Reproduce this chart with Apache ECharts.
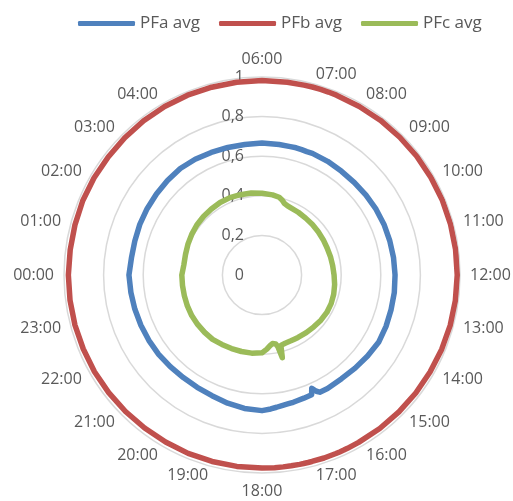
<!DOCTYPE html>
<html>
<head>
<meta charset="utf-8">
<script src="https://cdn.jsdelivr.net/npm/echarts@6/dist/echarts.min.js"></script>
<style>
html,body{margin:0;padding:0;background:#fff;}
#c{width:513px;height:501px;}
</style>
</head>
<body>
<div id="c"></div>
<script>
// Clock hours of the samples
const times = [0,0.5,1,1.5,2,2.5,3,3.5,4,4.5,5,5.5,6,
  6.5,6.83,7,7.17,7.33,7.5,8,8.5,9,9.5,10,10.5,11,11.5,12,12.5,13,13.5,14,14.5,15,15.5,16,
  16.25,16.33,16.42,16.5,16.75,17,17.08,17.17,17.25,17.42,17.58,17.75,
  18,18.5,19,19.5,20,20.5,21,21.5,22,22.5,23,23.5];

const pfaAvg = [0.672,0.665,0.665,0.668,0.67,0.672,0.675,0.678,0.675,0.67,0.667,0.665,0.667,
  0.665,0.664,0.665,0.664,0.663,0.665,0.663,0.66,0.66,0.662,0.665,0.667,0.668,0.67,0.672,0.674,0.675,0.678,0.68,0.672,0.665,0.66,0.662,
  0.66,0.648,0.625,0.655,0.657,0.66,0.662,0.663,0.664,0.667,0.672,0.678,
  0.685,0.68,0.67,0.66,0.655,0.653,0.655,0.658,0.66,0.662,0.665,0.668];

const pfbAvg = [0.978,0.977,0.978,0.98,0.98,0.979,0.98,0.982,0.983,0.983,0.982,0.982,0.982,
  0.982,0.982,0.983,0.983,0.983,0.983,0.983,0.984,0.984,0.985,0.985,0.986,0.986,0.986,0.986,0.985,0.984,0.982,0.98,0.979,0.978,0.977,0.976,
  0.976,0.976,0.976,0.976,0.976,0.975,0.975,0.975,0.975,0.975,0.975,0.975,
  0.975,0.975,0.975,0.975,0.974,0.974,0.975,0.976,0.977,0.977,0.978,0.978];

const pfcAvg = [0.405,0.398,0.40,0.405,0.41,0.415,0.418,0.42,0.423,0.423,0.42,0.418,0.413,
  0.408,0.402,0.392,0.378,0.373,0.37,0.366,0.362,0.36,0.358,0.357,0.356,0.358,0.36,0.364,0.37,0.375,0.378,0.378,0.375,0.37,0.367,0.364,
  0.363,0.363,0.363,0.363,0.364,0.368,0.43,0.37,0.355,0.35,0.36,0.375,
  0.393,0.398,0.40,0.402,0.405,0.41,0.41,0.41,0.41,0.408,0.406,0.405];

// Category labels shown around the chart (05:00 is not shown in the original)
const hourLabels = ['00:00','01:00','02:00','03:00','04:00','','06:00','07:00','08:00','09:00','10:00','11:00',
  '12:00','13:00','14:00','15:00','16:00','17:00','18:00','19:00','20:00','21:00','22:00','23:00'];
const radiusTicks = [0, 0.2, 0.4, 0.6, 0.8, 1];

const seriesNames = ['PFa avg','PFb avg','PFc avg'];
const seriesColors = ['#4F81BD','#C0504D','#9BBB59'];

function toPolar(vals){
  const pts = times.map((t,i)=>[vals[i], (t - 6 + 24) % 24]);
  pts.push([vals[0], (times[0] - 6 + 24) % 24]);
  return pts;
}

// indicator order: start at 06:00 on top, radar goes counter-clockwise
const indicatorOrder = [];
for (let k = 0; k < 24; k++) indicatorOrder.push((6 - k + 24) % 24);

const FONT = '"Open Sans", sans-serif';
const CX = 262, CY = 275, R = 198;
const chart = echarts.init(document.getElementById('c'), null, {renderer:'canvas'});
chart.setOption({
  animation:false,
  backgroundColor:'#fff',
  legend:{
    data: seriesNames,
    left: 78, top: 15, padding:0,
    icon:'roundRect',
    itemWidth:57, itemHeight:5,
    itemGap:19,
    textStyle:{color:'#595959', fontSize:17, fontFamily:FONT}
  },
  radar:{
    center:[CX,CY], radius:R, startAngle:90, shape:'circle', splitNumber:5,
    indicator: indicatorOrder.map(h=>({name:hourLabels[h], min:0, max:1})),
    axisName:{color:'#595959', fontSize:16, fontFamily:FONT},
    nameGap:10,
    axisLine:{show:false}, axisTick:{show:false}, axisLabel:{show:false},
    splitLine:{show:false}, splitArea:{show:false}
  },
  polar:{center:[CX,CY], radius:R},
  angleAxis:{
    type:'value', min:0, max:24, interval:1,
    startAngle:90, clockwise:true,
    axisLine:{show:false}, axisTick:{show:false}, splitLine:{show:false},
    axisLabel:{show:false}
  },
  radiusAxis:{
    type:'value', min:radiusTicks[0], max:radiusTicks[radiusTicks.length-1], interval:0.2,
    axisLine:{show:false}, axisTick:{show:false},
    splitLine:{show:true, lineStyle:{color:'#d9d9d9', width:1.5}},
    axisLabel:{
      margin:18, color:'#595959', fontSize:16, fontFamily:FONT,
      formatter:function(v){ return String(Math.round(v*10)/10).replace('.', ','); }
    }
  },
  series:[pfaAvg,pfbAvg,pfcAvg].map((vals,i)=>({
    name:seriesNames[i], type:'line', coordinateSystem:'polar',
    data:toPolar(vals), showSymbol:false, symbol:'none',
    color:seriesColors[i],
    lineStyle:{width:5.5, color:seriesColors[i], cap:'round', join:'round'}
  }))
});
</script>
</body>
</html>
